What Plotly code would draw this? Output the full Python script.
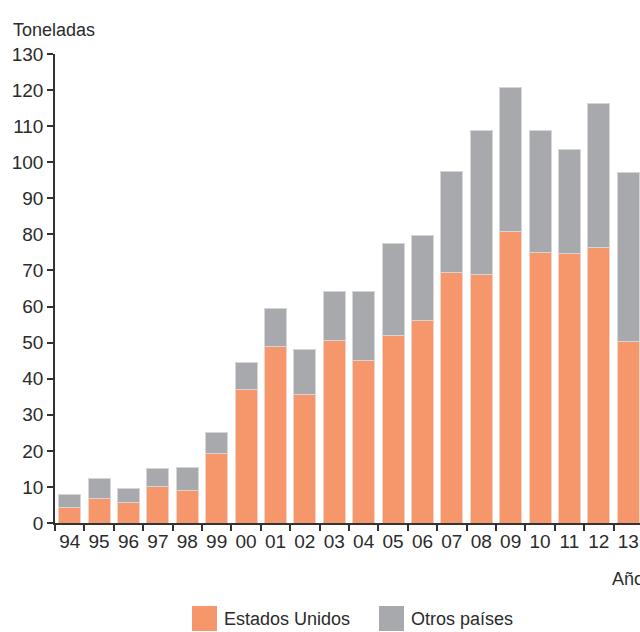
import plotly.graph_objects as go

# Toneladas por año: Estados Unidos y resto de países
years = ["94", "95", "96", "97", "98", "99", "00", "01", "02", "03",
         "04", "05", "06", "07", "08", "09", "10", "11", "12", "13"]
estados_unidos = [4.2, 6.9, 5.6, 10.2, 9.1, 19.4, 37.1, 48.9, 35.5, 50.5,
                  45.0, 52.0, 56.2, 69.3, 68.8, 80.9, 75.1, 74.8, 76.3, 50.3]
totales = [7.8, 12.3, 9.7, 15.0, 15.3, 25.0, 44.4, 59.4, 48.0, 64.2,
           64.3, 77.6, 79.6, 97.3, 108.9, 120.8, 108.8, 103.6, 116.2, 97.2]
otros_paises = [round(t - u, 1) for t, u in zip(totales, estados_unidos)]

y_ticks = list(range(0, 131, 10))

ORANGE = "#F6976B"
GRAY = "#A8A9AC"
TEXT = "#2B2B2B"
FONT = "Liberation Sans, Arial, sans-serif"

fig = go.Figure()
fig.add_trace(go.Bar(
    x=years, y=estados_unidos, name="Estados Unidos",
    marker=dict(color=ORANGE, line=dict(color="#F2D2C4", width=1)),
    width=0.75,
))
fig.add_trace(go.Bar(
    x=years, y=otros_paises, name="Otros países",
    marker=dict(color=GRAY, line=dict(color="#D6D6D8", width=1)),
    width=0.75,
))

fig.update_layout(
    width=640, height=632,
    margin=dict(l=55, r=0, t=54, b=109, autoexpand=False),
    barmode="stack",
    showlegend=False,
    plot_bgcolor="white",
    paper_bgcolor="white",
    font=dict(family=FONT, size=19, color=TEXT),
)

fig.update_xaxes(
    type="category",
    range=[-0.5, 19.4],
    showline=True, linecolor="#333333", linewidth=1.5,
    ticks="outside", tickson="boundaries", ticklen=6,
    tickcolor="#333333", tickwidth=1.5,
    tickangle=0, automargin=False,
    showgrid=False,
    tickfont=dict(size=19, color=TEXT),
)
fig.update_yaxes(
    range=[0, 130],
    tickvals=y_ticks,
    showline=True, linecolor="#333333", linewidth=1.5,
    ticks="outside", ticklen=6, tickcolor="#333333", tickwidth=1.5,
    automargin=False,
    showgrid=False, zeroline=False,
    tickfont=dict(size=19, color=TEXT),
)

# Títulos de ejes
fig.add_annotation(text="Toneladas", xref="paper", yref="paper",
                   x=-0.075, y=1.0, xanchor="left", yanchor="bottom",
                   yshift=12, showarrow=False,
                   font=dict(size=18, color=TEXT))
fig.add_annotation(text="Año", xref="paper", yref="paper",
                   x=0.948, y=0, xanchor="left", yanchor="top",
                   yshift=-44, showarrow=False,
                   font=dict(size=18, color=TEXT))

# Leyenda con cuadros grandes
legend_items = [("Estados Unidos", ORANGE, 192), ("Otros países", GRAY, 379)]
for label, color, px in legend_items:
    x0 = (px - 55) / 585
    x1 = (px + 25 - 55) / 585
    fig.add_shape(type="rect", xref="paper", yref="paper",
                  x0=x0, x1=x1, y0=-(606 - 523) / 469, y1=-(631 - 523) / 469,
                  fillcolor=color, line=dict(width=0))
    fig.add_annotation(text=label, xref="paper", yref="paper",
                       x=(px + 30 - 55) / 585, y=-(618.5 - 523) / 469,
                       xanchor="left", yanchor="middle", showarrow=False,
                       font=dict(size=18, color=TEXT))

fig.write_html("out.html")
